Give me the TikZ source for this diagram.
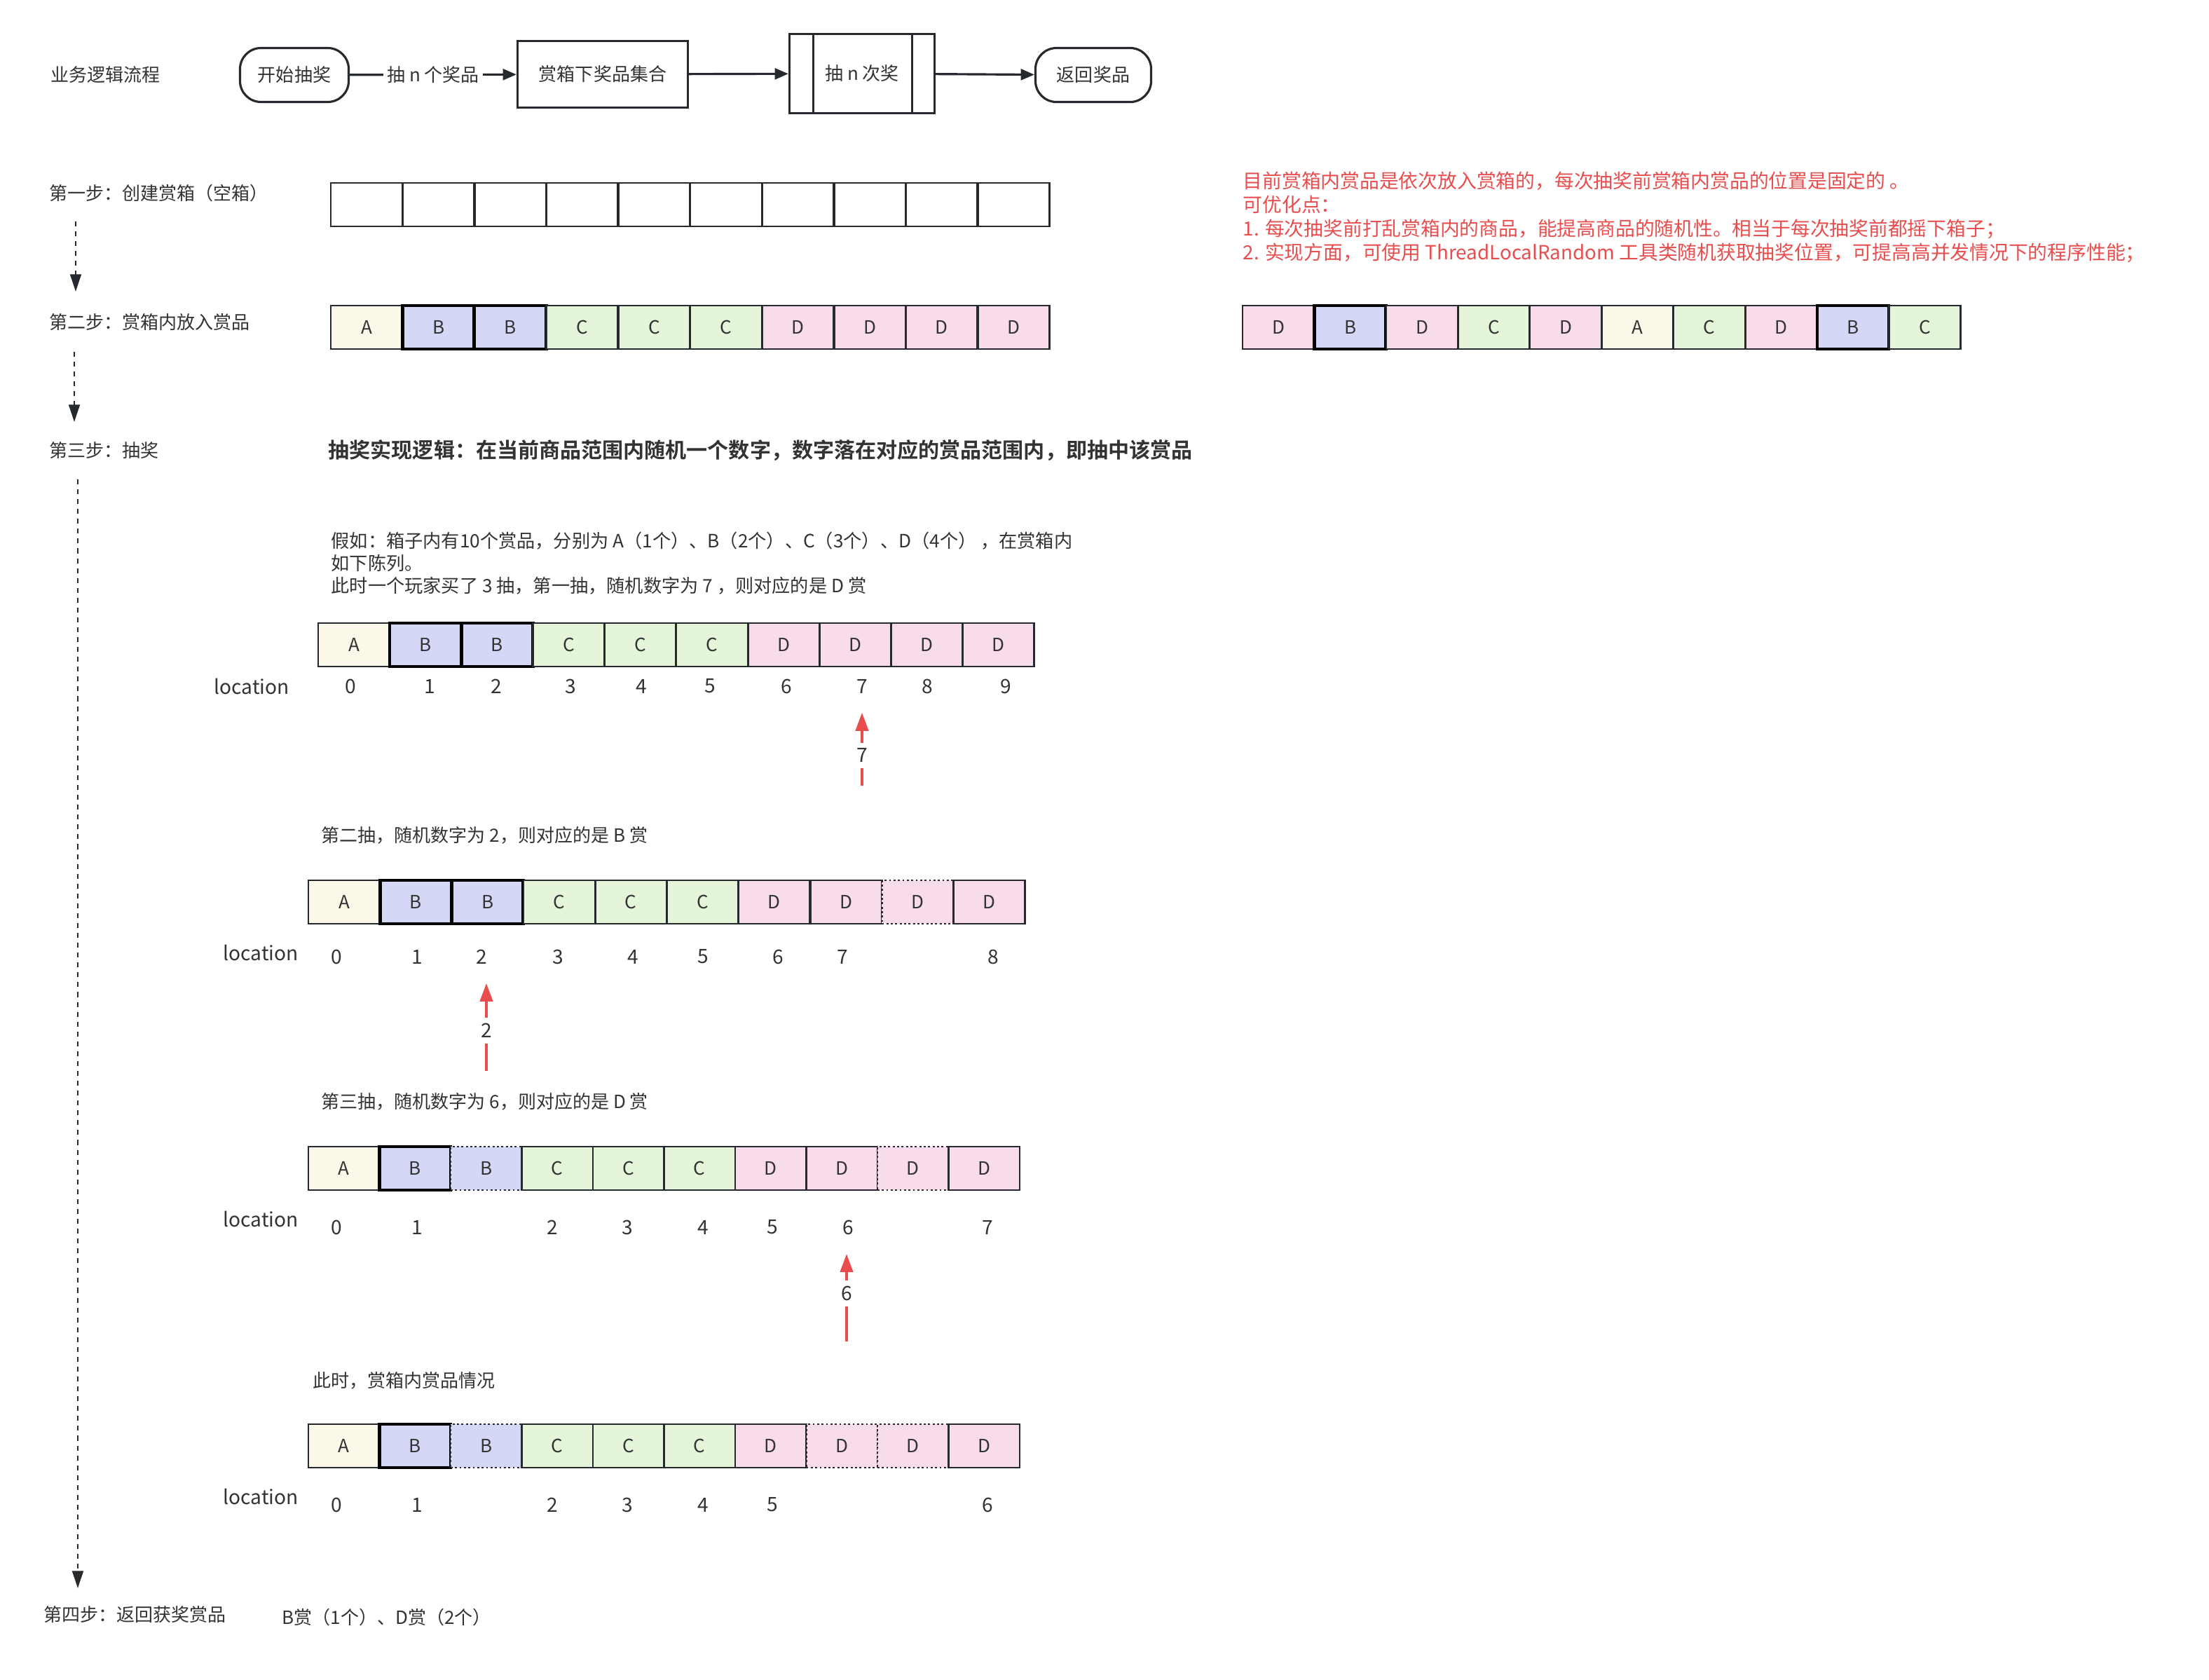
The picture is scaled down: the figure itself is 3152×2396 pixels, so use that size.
\documentclass[tikz,border=0pt]{standalone}
\usepackage{fontspec}
\setmainfont{Noto Sans CJK SC}[BoldFont={Noto Sans CJK SC Bold}]
\usetikzlibrary{arrows.meta,positioning,calc}
\definecolor{ink}{RGB}{51,51,51}
\definecolor{linecol}{RGB}{38,42,46}
\definecolor{alert}{RGB}{232,78,78}
\definecolor{prizeA}{RGB}{251,248,234}
\definecolor{prizeB}{RGB}{212,216,246}
\definecolor{prizeC}{RGB}{228,245,217}
\definecolor{prizeD}{RGB}{249,220,236}

\begin{document}
\begin{tikzpicture}[
    x=0.01cm, y=-0.01cm,
    font=\fontsize{7.4pt}{9pt}\selectfont,
    txt/.style={anchor=west, inner sep=0pt, text=ink},
    term/.style={draw=linecol, line width=0.9pt, rounded corners=0.3cm, minimum width=1.55cm, minimum height=0.77cm, text=ink},
    setbox/.style={draw=linecol, line width=0.9pt, minimum width=2.43cm, minimum height=0.95cm, text=ink},
    proc/.style={draw=linecol, line width=0.9pt, minimum width=2.07cm, minimum height=1.13cm, text=ink},
    flow/.style={-{Triangle[length=5.5pt,width=4.5pt]}, line width=0.9pt, linecol},
    stepline/.style={-{Triangle[length=7pt,width=4.5pt]}, dash pattern=on 2pt off 2pt, line width=0.6pt, linecol},
    cell/.style={draw=linecol, line width=0.8pt, minimum width=1.02cm, minimum height=0.62cm, inner sep=0pt, outer sep=0pt, anchor=west, text=ink},
    pa/.style={cell, fill=prizeA},
    pb/.style={cell, fill=prizeB, draw=black, line width=1.3pt},
    pc/.style={cell, fill=prizeC},
    pd/.style={cell, fill=prizeD},
    pe/.style={cell, fill=white},
    pbx/.style={cell, fill=prizeB, densely dotted},
    pdx/.style={cell, fill=prizeD, densely dotted},
    num/.style={inner sep=0pt, text=ink, font=\fontsize{8pt}{10pt}\selectfont},
    pick/.style={-{Triangle[length=7.4pt,width=5.2pt]}, line width=1pt, alert, shorten >=0.27cm}
]
\fill[white] (0,0) rectangle (3152,2396);
\useasboundingbox (0,0) rectangle (3152,2396);

% Top flow
\node[txt] (title) at (72,107) {业务逻辑流程};
\node[term] (start) at (420,107) {开始抽奖};
\node[setbox] (set) at (860,106) {赏箱下奖品集合};
\node[proc] (loop) at (1230,105) {抽 n 次奖};
\draw[linecol, line width=0.9pt] ([xshift=0.36cm]loop.north west) -- ([xshift=0.36cm]loop.south west);
\draw[linecol, line width=0.9pt] ([xshift=-0.34cm]loop.north east) -- ([xshift=-0.34cm]loop.south east);
\node[term, minimum width=1.65cm] (ret) at (1560,107) {返回奖品};
\draw[flow] (start) -- node[fill=white, inner sep=1.5pt, text=ink] {抽 n 个奖品} (set);
\draw[flow] (set) -- (loop);
\draw[flow] (loop) -- (ret);

% Steps
\node[txt] (s1) at (70,276) {第一步：创建赏箱（空箱）};
\node[txt] (s2) at (70,460) {第二步：赏箱内放入赏品};
\node[txt] (s3) at (70,643) {第三步：抽奖};
\node[txt] (s4) at (62,2304) {第四步：返回获奖赏品};
\coordinate (d1a) at (108,316); \coordinate (d1b) at (108,416);
\coordinate (d2a) at (106,502); \coordinate (d2b) at (106,602);
\coordinate (d3a) at (111,684); \coordinate (d3b) at (111,2266);
\draw[stepline] (d1a) -- (d1b);
\draw[stepline] (d2a) -- (d2b);
\draw[stepline] (d3a) -- (d3b);

% Step 1: empty box
\foreach \i in {0,...,9}
    \node[pe] (e-\i) at ({472+\i*102.6},292) {};

% Step 2: box filled in order
\foreach \t/\s [count=\i from 0] in {A/pa,B/pb,B/pb,C/pc,C/pc,C/pc,D/pd,D/pd,D/pd,D/pd}
    \node[\s] (f-\i) at ({472+\i*102.6},467) {\t};

% Improvement note
\node[txt, text=alert, align=left, font=\fontsize{7.9pt}{9.7pt}\selectfont] (note) at (1773,310)
    {目前赏箱内赏品是依次放入赏箱的，每次抽奖前赏箱内赏品的位置是固定的 。\\
     可优化点：\\
     1. 每次抽奖前打乱赏箱内的商品，能提高商品的随机性。相当于每次抽奖前都摇下箱子；\\
     2. 实现方面，可使用 ThreadLocalRandom 工具类随机获取抽奖位置，可提高高并发情况下的程序性能；};
\foreach \t/\s [count=\i from 0] in {D/pd,B/pb,D/pd,C/pc,D/pd,A/pa,C/pc,D/pd,B/pb,C/pc}
    \node[\s] (m-\i) at ({1773+\i*102.5},467) {\t};

% Step 3: draw logic
\node[txt, font=\fontsize{8.55pt}{11pt}\selectfont\bfseries] (logic) at (468,643)
    {抽奖实现逻辑：在当前商品范围内随机一个数字，数字落在对应的赏品范围内，即抽中该赏品};

% First draw
\node[txt, align=left, font=\fontsize{7.45pt}{9.1pt}\selectfont] (case) at (472,804)
    {假如：箱子内有10个赏品，分别为 A（1个）、B（2个）、C（3个）、D（4个） ，在赏箱内\\
     如下陈列。\\
     此时一个玩家买了 3 抽，第一抽，随机数字为 7 ，则对应的是 D 赏};
\foreach \t/\s [count=\i from 0] in {A/pa,B/pb,B/pb,C/pc,C/pc,C/pc,D/pd,D/pd,D/pd,D/pd}
    \node[\s] (a-\i) at ({454+\i*102.2},920) {\t};
\node[num] (loc1) at (359,979) {location};
\foreach \n/\x in {0/500,1/613,2/708,3/814,4/915,5/1013,6/1122,7/1230,8/1323,9/1435}
    \node[num] (n1-\n) at (\x,979) {\n};
\coordinate (t1) at (1230,1121);
\draw[pick] (t1) -- node[pos=0.33, fill=white, num, inner sep=2.3pt] {7} (t1 |- n1-7.south);

% Second draw
\node[txt] (draw2) at (458,1192) {第二抽，随机数字为 2，则对应的是 B 赏};
\foreach \t/\s [count=\i from 0] in {A/pa,B/pb,B/pb,C/pc,C/pc,C/pc,D/pd,D/pd,D/pdx,D/pd}
    \node[\s] (b-\i) at ({440+\i*102.3},1287) {\t};
\node[num] (loc2) at (372,1359) {location};
\foreach \n/\x in {0/480,1/595,2/687,3/796,4/903,5/1003,6/1110,7/1202,8/1417}
    \node[num] (n2-\n) at (\x,1365) {\n};
\coordinate (t2) at (694,1528);
\draw[pick] (t2) -- node[pos=0.38, fill=white, num, inner sep=2.3pt] {2} (t2 |- n2-2.south);

% Third draw
\node[txt] (draw3) at (458,1572) {第三抽，随机数字为 6，则对应的是 D 赏};
\foreach \t/\s [count=\i from 0] in {A/pa,B/pb,B/pbx,C/pc,C/pc,C/pc,D/pd,D/pd,D/pdx,D/pd}
    \node[\s, minimum width=1.015cm] (c-\i) at ({440+\i*101.5},1667) {\t};
\node[num] (loc3) at (372,1739) {location};
\foreach \n/\x in {0/480,1/595,2/788,3/895,4/1003,5/1102,6/1210,7/1409}
    \node[num] (n3-\n) at (\x,1751) {\n};
\coordinate (t3) at (1208,1914);
\draw[pick] (t3) -- node[pos=0.45, fill=white, num, inner sep=2.3pt] {6} (t3 |- n3-6.south);

% Box after three draws
\node[txt] (after) at (446,1970) {此时，赏箱内赏品情况};
\foreach \t/\s [count=\i from 0] in {A/pa,B/pb,B/pbx,C/pc,C/pc,C/pc,D/pd,D/pdx,D/pdx,D/pd}
    \node[\s, minimum width=1.015cm] (g-\i) at ({440+\i*101.5},2063) {\t};
\node[num] (loc4) at (372,2135) {location};
\foreach \n/\x in {0/480,1/595,2/788,3/895,4/1003,5/1102,6/1409}
    \node[num] (n4-\n) at (\x,2147) {\n};

% Step 4: result
\node[txt] (won) at (402,2308) {B赏（1个）、D赏（2个）};

\end{tikzpicture}
\end{document}
